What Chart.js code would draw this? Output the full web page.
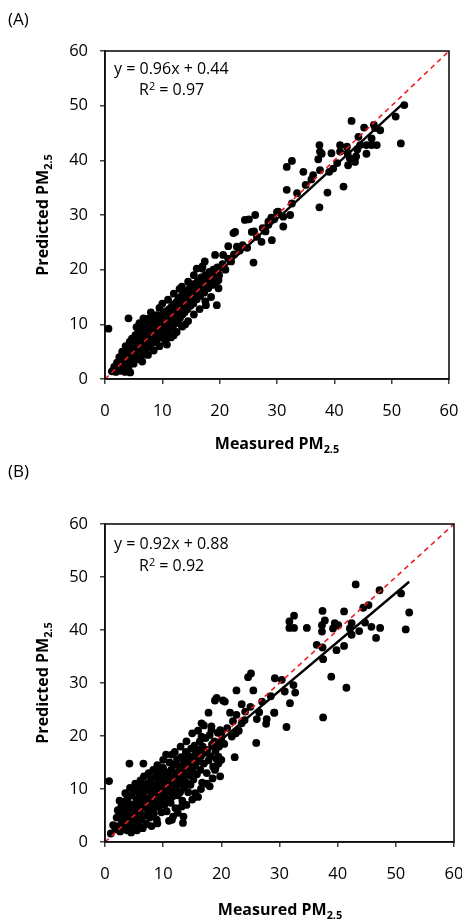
<!DOCTYPE html>
<html><head><meta charset="utf-8">
<script src="https://cdn.jsdelivr.net/npm/chart.js@4.4.1/dist/chart.umd.min.js"></script>
<style>
body{margin:0;background:#fff;width:462px;height:920px;position:relative;overflow:hidden;font-family:"Open Sans",sans-serif;color:#000}
.wrap{position:absolute;left:0;width:462px;height:460px}
.lbl{position:absolute;white-space:nowrap;font-size:16px;line-height:1;transform:translate(0,-50%)}
.c{transform:translate(-50%,-50%)}
.ttl{font-weight:bold;font-size:16px}
.rot{transform:translate(-50%,-50%) rotate(-90deg)}
sub{font-size:0.68em;vertical-align:-0.35em;line-height:0}
sup{font-size:0.68em;vertical-align:0.45em;line-height:0}
</style></head>
<body>
<div class="wrap" style="top:0"><canvas id="cA" width="462" height="460"></canvas></div>
<div class="wrap" style="top:460px"><canvas id="cB" width="462" height="460"></canvas></div>

<div class="lbl" style="left:8px;top:18px;font-size:17px">(A)</div>
<div class="lbl" style="left:114px;top:68px">y = 0.96x + 0.44</div>
<div class="lbl" style="left:139px;top:89px">R<sup>2</sup> = 0.97</div>
<div class="lbl ttl rot" style="left:42px;top:215px">Predicted PM<sub>2.5</sub></div>
<div class="lbl ttl c" style="left:277px;top:443px">Measured PM<sub>2.5</sub></div>

<div class="lbl" style="left:8px;top:470px;font-size:17px">(B)</div>
<div class="lbl" style="left:114px;top:543px">y = 0.92x + 0.88</div>
<div class="lbl" style="left:139px;top:565px">R<sup>2</sup> = 0.92</div>
<div class="lbl ttl rot" style="left:42px;top:683px">Predicted PM<sub>2.5</sub></div>
<div class="lbl ttl c" style="left:280px;top:909px">Measured PM<sub>2.5</sub></div>

<script>
const tickValues = [0, 10, 20, 30, 40, 50, 60];
const oneToOne = [[0, 0], [60, 60]];
const fitA = [[0.9, 1.3], [52.2, 50.6]];
const fitB = [[0.6, 1.4], [52.3, 49.1]];

const pointsA = [
[0.6,9.2],[43.0,47.2],[50.7,48.0],[52.2,50.1],[51.6,43.1],[45.2,46.0],[46.9,46.5],[47.1,45.9],[46.5,44.0],[44.2,44.3],
[44.5,42.8],[45.6,42.8],[46.5,42.8],[47.4,42.8],[45.6,41.2],[37.4,42.8],[37.5,41.6],[37.8,41.2],[37.2,40.2],[39.5,41.3],
[41.0,42.8],[41.0,41.6],[42.2,42.5],[42.3,41.3],[42.7,40.4],[42.4,39.1],[43.8,40.7],[43.6,39.7],[32.6,39.9],[31.7,38.8],
[34.6,37.9],[39.8,38.5],[39.1,37.9],[36.3,37.3],[37.5,38.2],[31.7,34.6],[38.8,34.1],[41.6,35.2],[37.4,31.4],[32.6,32.1],
[30.2,30.6],[31.1,29.7],[32.3,30.0],[31.1,27.9],[33.5,34.0],[35.0,35.5],[28.5,28.8],[29.5,29.2],[36.0,36.5],[40.5,39.5],
[44.0,42.0],[48.0,45.5],
[24.4,29.1],[25.1,29.2],[26.2,30.0],[25.6,26.9],[27.3,25.1],[29.1,25.4],[25.9,21.3],[22.4,26.7],[22.7,26.9],[21.5,24.3],
[19.2,22.7],[20.6,22.7],[17.4,21.5],[16.9,20.2],[19.8,18.1],[19.8,16.6],[19.5,13.5],[17.6,13.5],[13.4,16.9],[4.1,11.1],
[10.8,6.3],[13.4,9.7],[6.7,11.1],[7.8,11.1],[9.0,11.7],
[20.5,21.0],[21.5,22.0],[22.5,22.8],[23.5,23.5],[24.0,24.5],[23.0,24.2],[26.5,26.0],[27.5,27.6],[28.5,28.2],[29.0,29.5],
[30.0,30.5],[28.0,27.0],[22.0,21.5],[21.0,20.0],[24.8,24.0],[26.0,27.0],
[1.2,1.4],[1.6,2.2],[1.9,1.3],[2.1,3.0],[2.4,2.0],[2.5,4.0],[2.7,1.5],[2.9,3.3],[3.0,5.0],[3.2,2.4],
[3.4,4.2],[3.5,1.3],[3.6,6.0],[3.8,3.1],[3.9,5.2],[4.1,2.2],[4.2,4.5],[4.3,6.8],[4.4,1.2],[4.5,3.6],
[4.6,5.6],[4.7,7.4],[4.9,4.4],[5.0,2.8],[5.1,6.3],[5.2,5.0],[5.3,8.0],[5.4,3.8],[5.5,7.0],[5.6,5.6],
[5.7,4.6],[5.8,8.6],[5.9,6.4],[6.0,3.6],[6.1,7.6],[6.2,5.4],[6.3,9.0],[6.4,6.6],[6.5,4.5],[6.6,8.2],
[6.7,5.9],[6.8,9.6],[6.9,7.2],[7.0,5.2],[7.1,8.6],[7.2,6.4],[7.3,10.2],[7.4,7.8],[7.5,5.8],[7.6,9.2],
[7.7,7.0],[7.8,6.2],[7.9,8.4],[8.0,10.4],[8.1,7.4],[8.2,9.0],[8.3,6.6],[8.4,11.0],[8.5,8.2],[8.6,9.8],
[8.7,7.2],[8.8,10.6],[8.9,8.8],[9.0,6.8],[9.1,9.6],[9.2,11.2],[9.3,8.0],[9.4,10.2],[9.5,7.6],[9.6,9.0],
[9.7,11.6],[9.8,8.6],[9.9,10.6],[10.0,7.8],[10.1,9.6],[10.2,12.0],[10.3,8.8],[10.4,11.0],[10.5,10.0],[10.6,8.2],
[10.7,12.4],[10.8,9.4],[10.9,11.4],[11.0,10.4],[11.1,8.8],[11.2,12.8],[11.3,10.0],[11.4,11.8],[11.5,9.4],[11.6,13.2],
[11.7,10.8],[11.8,12.2],[11.9,9.8],[12.0,13.6],[12.1,11.2],[12.2,12.6],[12.3,10.2],[12.4,14.0],[12.5,11.8],[12.6,13.0],
[12.7,10.8],[12.8,14.6],[12.9,12.2],[13.0,13.4],[13.1,11.2],[13.2,15.0],[13.3,12.6],[13.4,14.0],[13.5,11.8],[13.6,15.6],
[13.7,13.0],[13.8,14.4],[13.9,12.2],[14.0,16.0],[14.2,13.6],[14.3,15.0],[14.4,12.8],[14.6,16.4],[14.7,14.2],[14.8,15.4],
[14.9,13.4],[15.0,17.0],[15.2,14.8],[15.3,16.0],[15.4,13.8],[15.6,17.4],[15.8,15.4],[15.9,16.6],[16.0,14.6],[16.2,18.0],
[16.4,16.0],[16.5,17.0],[16.6,15.2],[16.8,18.6],[17.0,16.6],[17.1,17.6],[17.3,15.8],[17.5,19.0],[17.6,17.2],[17.8,18.2],
[18.0,16.6],[18.2,19.6],[18.4,17.8],[18.5,18.8],[18.7,17.2],[18.9,20.0],[19.0,18.4],[19.2,19.4],[19.4,17.8],[19.6,20.4],
[19.9,19.0],
[5.5,9.5],[6.0,10.2],[7.0,11.0],[8.0,12.2],[9.5,13.0],[10.0,13.8],[11.0,14.5],[12.0,15.6],[13.0,16.5],[14.5,17.8],
[15.5,19.0],[16.0,20.2],[17.0,20.6],[6.5,3.2],[7.5,4.4],[8.5,5.2],[9.5,6.0],[10.5,7.0],[11.5,7.6],[12.5,8.6],
[13.5,9.6],[14.5,10.6],[15.5,11.8],[16.5,12.8],[17.5,14.2],[18.5,15.0],[12.0,8.0],[14.0,10.0],[8.2,8.6],[9.0,9.4],
[10.0,10.6],[11.0,11.6],[12.0,12.4],[13.0,12.0],[14.0,14.6],[15.0,15.6],[16.0,16.4],[17.0,18.0],[6.0,8.0],[7.0,7.8]
];

const pointsB = [
[43.1,48.6],[47.2,47.5],[50.9,46.9],[52.3,43.3],[51.7,40.1],[45.3,44.7],[44.4,44.2],[41.1,43.5],[37.4,43.6],[32.5,42.7],
[31.7,41.6],[31.7,40.4],[32.5,40.4],[34.7,40.4],[37.8,41.8],[37.3,40.9],[37.3,39.7],[39.5,41.3],[40.1,40.9],[39.2,40.3],
[42.4,41.3],[42.1,40.3],[42.4,39.1],[43.7,39.8],[44.7,41.4],[45.8,40.6],[47.3,40.4],[46.6,38.5],[36.4,37.2],[37.4,36.7],
[39.8,36.2],[41.1,37.0],[37.5,34.5],[38.9,31.2],[41.5,29.1],[29.2,30.9],[30.4,30.6],[30.9,28.4],[32.4,29.6],[32.7,28.2],
[31.8,26.2],[29.1,24.4],[37.5,23.5],
[0.7,11.5],[4.2,14.8],[6.6,14.8],[13.4,3.6],[16.6,22.4],[17.8,24.4],[18.3,21.8],[19.8,21.1],[20.3,26.7],[18.9,26.7],
[19.2,27.2],[20.6,26.5],[22.6,28.6],[16.6,19.9],[22.3,16.0],[26.0,18.7],[25.5,28.6],[24.6,31.1],[25.1,31.8],[21.5,24.4],
[22.6,24.0],[23.5,22.4],[21.8,19.9],[24.1,24.6],[26.1,23.2],[27.8,23.2],[27.7,22.3],[29.1,24.4],[31.2,21.7],[19.5,16.1],
[19.5,14.8],[18.9,13.6],[15.5,9.2],[16.0,8.5],[13.2,6.7],[13.5,4.8],[11.7,4.8],[11.5,4.2],[9.2,14.2],[9.5,12.3],
[18.3,21.2],[20.0,20.5],[21.0,21.5],[22.0,22.8],[23.0,21.0],[24.0,23.0],[25.0,25.5],[26.5,24.5],[27.0,26.5],[28.5,27.5],
[20.5,18.5],[22.5,20.5],[23.5,26.0],
[1.0,1.6],[1.4,3.2],[1.8,2.4],[2.0,4.6],[2.2,6.0],[2.3,3.0],[2.5,5.2],[2.6,2.0],[2.8,6.6],[2.9,4.0],
[3.0,2.6],[3.2,5.6],[3.3,7.6],[3.4,3.4],[3.5,9.2],[3.6,4.6],[3.7,6.4],[3.8,2.2],[3.9,8.4],[4.0,5.2],
[4.1,3.2],[4.2,7.2],[4.3,10.2],[4.4,4.2],[4.5,6.0],[4.6,8.8],[4.7,2.6],[4.8,5.4],[4.9,9.6],[5.0,7.0],
[5.1,3.6],[5.2,11.0],[5.3,6.2],[5.4,8.0],[5.5,4.6],[5.6,10.0],[5.7,7.4],[5.8,3.0],[5.9,9.0],[6.0,5.6],
[6.1,11.6],[6.2,7.8],[6.3,4.2],[6.4,10.4],[6.5,6.6],[6.6,8.6],[6.7,12.4],[6.8,5.0],[6.9,9.6],[7.0,7.2],
[7.1,3.4],[7.2,11.0],[7.3,8.2],[7.4,6.0],[7.5,13.0],[7.6,9.8],[7.7,4.6],[7.8,7.6],[7.9,11.8],[8.0,8.8],
[8.1,6.4],[8.2,10.6],[8.3,13.6],[8.4,5.4],[8.5,9.4],[8.6,7.2],[8.7,12.4],[8.8,10.0],[8.9,4.2],[9.0,8.4],
[9.1,11.2],[9.2,6.6],[9.3,13.0],[9.4,9.0],[9.5,7.6],[9.6,10.8],[9.7,5.6],[9.8,12.2],[9.9,8.6],[10.0,14.0],
[10.1,10.0],[10.2,7.0],[10.3,11.6],[10.4,9.2],[10.5,13.2],[10.6,5.8],[10.7,10.6],[10.8,8.0],[10.9,12.6],[11.0,9.6],
[11.1,15.0],[11.2,11.2],[11.3,7.4],[11.4,13.6],[11.5,10.4],[11.6,8.6],[11.7,12.0],[11.8,14.6],[11.9,9.8],[12.0,11.4],
[12.1,6.4],[12.2,13.0],[12.3,10.6],[12.4,15.6],[12.5,8.8],[12.6,12.2],[12.7,14.2],[12.8,11.0],[12.9,9.4],[13.0,13.4],
[13.1,16.0],[13.2,11.8],[13.3,7.8],[13.4,14.6],[13.5,12.4],[13.6,10.2],[13.7,15.2],[13.8,13.0],[13.9,17.0],[14.0,11.2],
[14.2,14.0],[14.3,9.4],[14.4,16.2],[14.5,12.6],[14.6,15.0],[14.7,10.8],[14.8,17.6],[15.0,13.6],[15.1,15.8],[15.2,11.8],
[15.4,18.2],[15.5,14.4],[15.6,16.6],[15.8,12.8],[16.0,17.4],[16.1,15.2],[16.3,19.0],[16.4,13.6],[16.5,16.2],[16.7,11.2],
[16.8,18.0],[17.0,14.8],[17.2,16.8],[17.3,19.6],[17.5,13.0],[17.6,17.4],[17.8,15.4],[18.0,20.2],[18.2,16.2],[18.4,18.4],
[18.6,14.2],[18.8,19.0],[19.0,17.2],[19.2,15.6],[19.4,20.6],[19.6,18.0],[19.8,12.4],[20.0,19.2],
[10.5,16.5],[12.0,17.0],[13.0,18.0],[14.0,19.0],[15.0,20.5],[16.0,21.0],[17.0,22.0],[11.0,4.0],[12.5,5.5],[14.0,7.0],
[15.0,8.0],[16.5,10.0],[17.5,11.0],[18.5,12.0],[19.0,14.0],[20.0,15.5],[18.0,10.5],[9.0,3.5],[8.0,3.0],[6.5,2.6],
[5.5,2.2],[4.5,1.8],[3.0,7.0],[2.5,7.8],[9.0,14.5],[10.0,15.5],[11.5,16.5]
];

const toXY = arr => arr.map(([x, y]) => ({x, y}));

const framePlugin = {
  id: 'frame',
  afterDraw(chart) {
    const {ctx, chartArea: a} = chart;
    ctx.save();
    ctx.strokeStyle = '#000';
    ctx.lineWidth = 1.5;
    ctx.strokeRect(a.left, a.top, a.right - a.left, a.bottom - a.top);
    ctx.restore();
  }
};

function makeChart(id, pts, fit, lay) {
  const tickFont = {family: '"Open Sans", sans-serif', size: 16.5};
  const axisCommon = {
    type: 'linear', min: 0, max: 60,
    afterBuildTicks(s) { s.ticks = tickValues.map(v => ({value: v})); },
    grid: {drawOnChartArea: false, drawTicks: true, tickLength: 5, color: '#404040', lineWidth: 1.5},
    border: {display: true, color: '#404040', width: 1.5}
  };
  return new Chart(document.getElementById(id), {
    type: 'scatter',
    data: {datasets: [
      {type: 'line', data: toXY(oneToOne), borderColor: '#ee1c24', borderWidth: 1.6, borderDash: [5, 4],
       pointRadius: 0, fill: false, order: 0},
      {type: 'line', data: toXY(fit), borderColor: '#000', borderWidth: 2.4, pointRadius: 0, fill: false, order: 1},
      {data: toXY(pts), backgroundColor: '#000', borderWidth: 0, pointRadius: 3.9, order: 2}
    ]},
    options: {
      responsive: false, animation: false, events: [],
      layout: {padding: {top: lay.top, right: lay.right, left: 0, bottom: 0}},
      plugins: {legend: {display: false}, tooltip: {enabled: false}},
      scales: {
        x: Object.assign({}, axisCommon, {
          position: 'bottom',
          ticks: {font: tickFont, color: '#000', padding: 17, maxRotation: 0, autoSkip: false},
          afterFit(s) { s.height = lay.xh; s.paddingLeft = 0; s.paddingRight = 0; }
        }),
        y: Object.assign({}, axisCommon, {
          position: 'left',
          ticks: {font: tickFont, color: '#000', padding: 12, autoSkip: false},
          afterFit(s) { s.width = 105; s.paddingTop = 0; s.paddingBottom = 0; }
        })
      }
    },
    plugins: [framePlugin]
  });
}

makeChart('cA', pointsA, fitA, {top: 51, right: 13, xh: 81});
makeChart('cB', pointsB, fitB, {top: 64, right: 8, xh: 78});
</script>
</body></html>
